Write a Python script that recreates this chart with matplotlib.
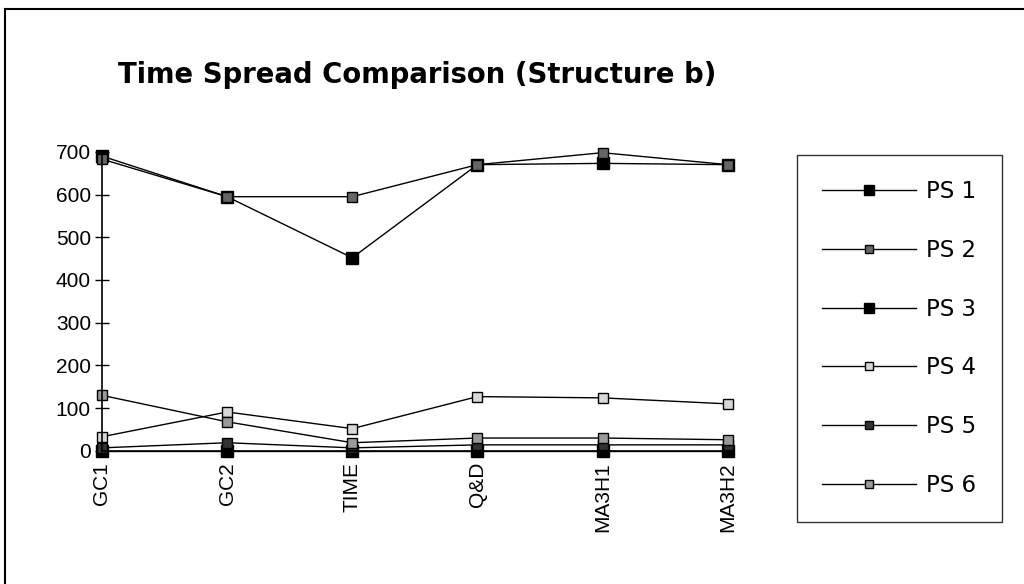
import matplotlib
matplotlib.use("Agg")
import matplotlib.pyplot as plt
from matplotlib.lines import Line2D

# categorias y series
categorias = ["GC1", "GC2", "TIME", "Q&D", "MA3H1", "MA3H2"]
ps1 = [690, 595, 452, 670, 673, 670]
ps2 = [683, 595, 595, 670, 698, 670]
ps3 = [0, 0, 0, 0, 0, 0]
ps4 = [33, 91, 52, 127, 124, 110]
ps5 = [7, 19, 7, 14, 14, 14]
ps6 = [130, 68, 19, 30, 30, 26]

series = [
    ("PS 1", ps1, "black", 9),
    ("PS 2", ps2, "#666666", 7.5),
    ("PS 3", ps3, "black", 9),
    ("PS 4", ps4, "#d8d8d8", 7.5),
    ("PS 5", ps5, "#333333", 7.5),
    ("PS 6", ps6, "#9a9a9a", 7.5),
]

plt.rcParams["font.family"] = ["Liberation Sans", "DejaVu Sans"]

fig = plt.figure(figsize=(10.24, 5.84), dpi=100)
ax = fig.add_axes([0.0996, 0.228, 0.611, 0.512])

x = list(range(len(categorias)))
for nombre, valores, color, tam in series:
    ax.plot(x, valores, color="black", linewidth=1.0, marker="s",
            markersize=tam, markerfacecolor=color, markeredgecolor="black",
            markeredgewidth=1.0, label=nombre, clip_on=False)

ax.set_xlim(0, 5)
ax.set_ylim(0, 700)
ax.set_yticks(range(0, 701, 100))
ax.set_xticks(x)
ax.set_xticklabels(categorias, rotation=90, fontsize=15)
ax.tick_params(axis="y", labelsize=15, direction="inout", length=10, width=1, pad=3)
ax.tick_params(axis="x", direction="inout", length=0, width=1, pad=8)
for s in ["top", "right"]:
    ax.spines[s].set_visible(False)
ax.spines["left"].set_linewidth(1.2)
ax.spines["bottom"].set_linewidth(1.2)

fig.text(0.115, 0.872, "Time Spread Comparison (Structure b)", fontsize=19.8,
         fontweight="bold", family="DejaVu Sans", ha="left", va="center")

leg = fig.legend(loc="upper left", bbox_to_anchor=(797 / 1024, 1 - 155 / 584),
                 bbox_transform=fig.transFigure, frameon=True,
                 fancybox=False, edgecolor="black",
                 prop={"family": "DejaVu Sans", "size": 16.5},
                 handlelength=4.1, labelspacing=1.56, borderpad=1.1,
                 handletextpad=0.45, borderaxespad=0, markerscale=0.8)
leg.get_frame().set_linewidth(1.0)

# marco exterior (solo arriba e izquierda)
fig.add_artist(Line2D([5 / 1024, 1.0], [1 - 9 / 584, 1 - 9 / 584],
                      transform=fig.transFigure, color="black", linewidth=1.5))
fig.add_artist(Line2D([5 / 1024, 5 / 1024], [0.0, 1 - 9 / 584],
                      transform=fig.transFigure, color="black", linewidth=1.5))

fig.savefig("out.png", dpi=100)
